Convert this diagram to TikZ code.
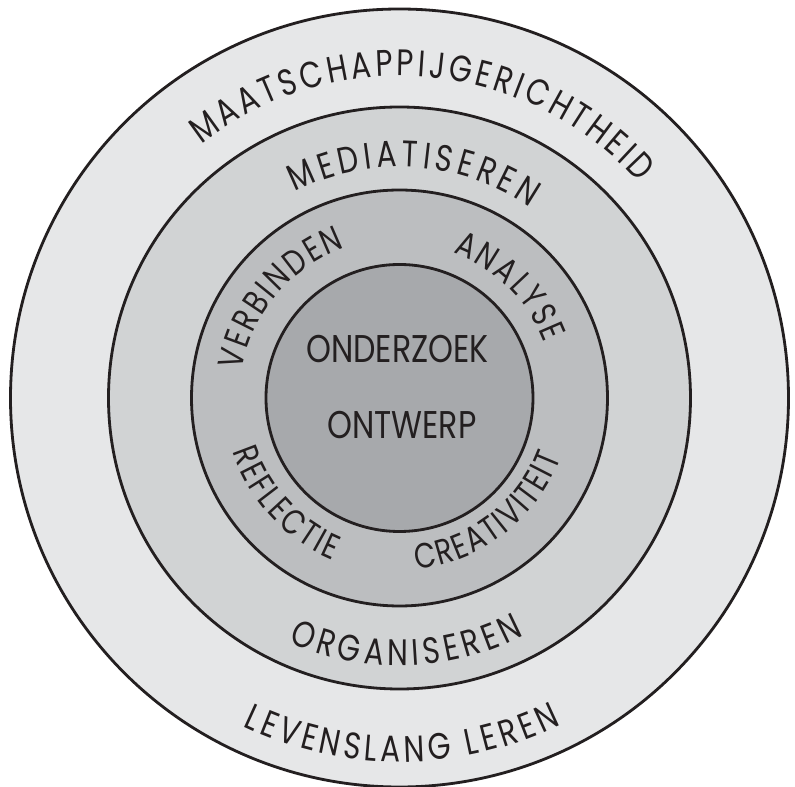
\documentclass[tikz,border=0pt]{standalone}
\usepackage{fontspec}
\setmainfont{Poppins}
\newfontfamily\ringfont[FakeStretch=0.8]{Poppins}
\newfontfamily\corefont[FakeStretch=0.82]{Poppins}
\usetikzlibrary{decorations.text}
\definecolor{ringA}{HTML}{E6E7E8}
\definecolor{ringB}{HTML}{D1D3D4}
\definecolor{ringC}{HTML}{BCBEC0}
\definecolor{ringD}{HTML}{A7A9AC}
\definecolor{ink}{HTML}{231F20}
\tikzset{
  ring/.style={draw=ink, line width=1.6pt},
  arctext/.style={decorate, decoration={text along path, text align=fit to path, text color=ink, text={#1}}},
  centerlbl/.style={text=ink, font=\corefont\fontsize{22}{22}\selectfont, inner sep=0pt}
}
\newcommand{\outerfont}{\ringfont\fontsize{21}{21}\selectfont}
\newcommand{\innerfont}{\ringfont\fontsize{20}{20}\selectfont}
\begin{document}
\begin{tikzpicture}[x=0.02cm,y=0.02cm]
\useasboundingbox (-399.5,-389) rectangle (395.5,398);
\coordinate (c) at (0,0);
\fill[white] (-399.5,-389) rectangle (395.5,398);
\draw[ring, fill=ringA] (c) circle[radius=389];
\draw[ring, fill=ringB] (c) circle[radius=291];
\draw[ring, fill=ringC] (c) circle[radius=208];
\draw[ring, fill=ringD] (c) circle[radius=133.5];
% outer ring texts
\path[arctext={|\outerfont|MAATSCHAPPIJGERICHTHEID}] (128:322) arc[start angle=128, end angle=42, radius=322];
\path[arctext={|\outerfont|LEVENSLANG LEREN}] (244.5:364) arc[start angle=244.5, end angle=296.3, radius=364];
% second ring texts
\path[arctext={|\outerfont|MEDIATISEREN}] (117:231) arc[start angle=117, end angle=55.6, radius=231];
\path[arctext={|\outerfont|ORGANISEREN}] (245.5:268) arc[start angle=245.5, end angle=297.8, radius=268];
% third ring texts
\path[arctext={|\innerfont|VERBINDEN}] (170:160) arc[start angle=170, end angle=110, radius=160];
\path[arctext={|\innerfont|ANALYSE}] (69.8:155) arc[start angle=69.8, end angle=20.7, radius=155];
\path[arctext={|\innerfont|REFLECTIE}] (197.9:175) arc[start angle=197.9, end angle=247.7, radius=175];
\path[arctext={|\innerfont|CREATIVITEIT}] (275.5:172) arc[start angle=275.5, end angle=339.7, radius=172];
% center
\node[centerlbl] (onderzoek) at (-2,48.5) {ONDERZOEK};
\node[centerlbl] (ontwerp) at (2.5,-27) {ONTWERP};
\end{tikzpicture}
\end{document}
